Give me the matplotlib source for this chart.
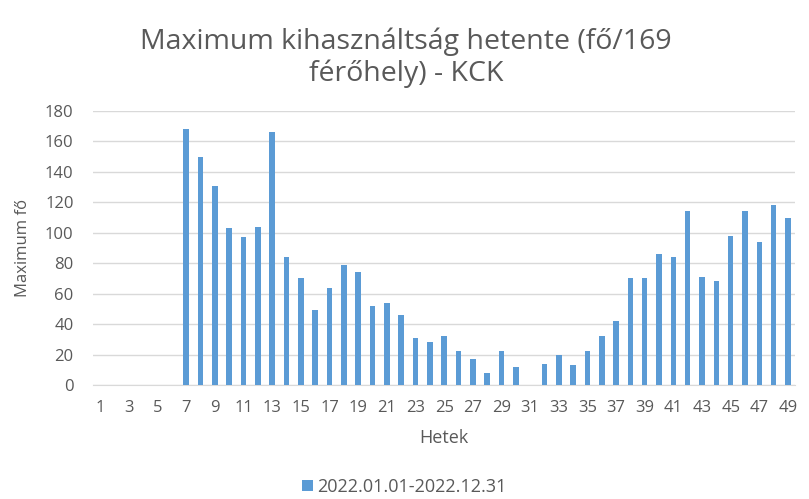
import numpy as np
import matplotlib.pyplot as plt

plt.rcParams["font.family"] = ["Open Sans", "DejaVu Sans"]

# heti maximum kihasznaltsag
weeks = list(range(1, 50))
max_fo = [0, 0, 0, 0, 0, 0,
          168, 150, 131, 103, 97, 104, 166, 84, 70, 49,
          64, 79, 74, 52, 54, 46, 31, 28, 32, 22,
          17, 8, 22, 12, 0, 14, 20, 13, 22, 32,
          42, 70, 70, 86, 84, 114, 71, 68, 98, 114,
          94, 118, 110]
tick_labels = [str(w) for w in weeks if w % 2 == 1]

gray = "#595959"
fig = plt.figure(figsize=(8.09, 4.99), dpi=100)
ax = fig.add_axes([0.115, 0.2285, 0.868, 0.549])

ax.bar(weeks, max_fo, width=0.38, color="#5b9bd5", zorder=3,
       label="2022.01.01-2022.12.31")
ax.set_xlim(0.5, 49.5)
ax.set_ylim(0, 180)
ax.set_yticks(np.arange(0, 181, 20))
ax.set_xticks([w for w in weeks if w % 2 == 1])
ax.set_xticklabels(tick_labels)
ax.grid(axis="y", color="#d9d9d9", linewidth=1, zorder=0)
for s in ["top", "right", "left"]:
    ax.spines[s].set_visible(False)
ax.spines["bottom"].set_color("#d9d9d9")
ax.tick_params(length=0, labelsize=12, colors=gray)
ax.tick_params(axis="y", pad=14)
ax.tick_params(axis="x", pad=11)

ax.set_xlabel("Hetek", fontsize=13, color=gray, labelpad=9)
ax.set_ylabel("Maximum fő", fontsize=12, color=gray, labelpad=10)
fig.suptitle("Maximum kihasználtság hetente (fő/169\nférőhely) - KCK",
             x=0.502, y=0.945, fontsize=20.5, color=gray, linespacing=1.15)

fig.legend(loc="lower center", bbox_to_anchor=(0.5, -0.026), frameon=False,
           fontsize=13, labelcolor=gray, handlelength=0.6, handleheight=0.6,
           handletextpad=0.25)

plt.savefig("out.png", dpi=100)
